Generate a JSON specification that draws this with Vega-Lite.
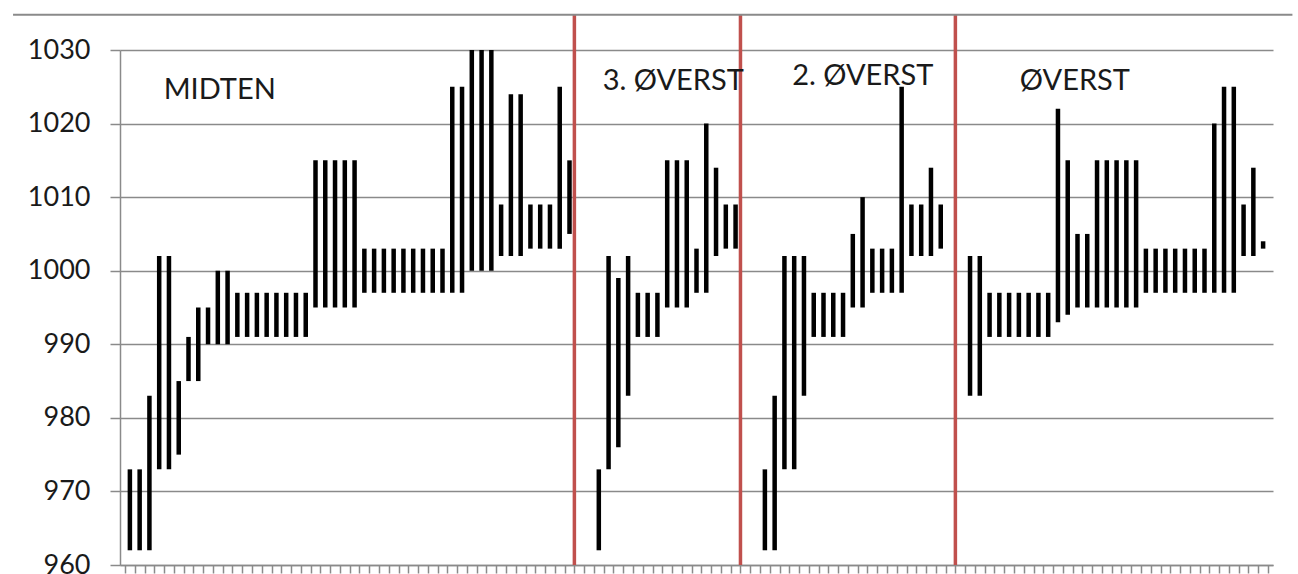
{
  "$schema": "https://vega.github.io/schema/vega-lite/v6.json",
  "width": 1153,
  "height": 515,
  "autosize": {"type": "none"},
  "padding": {"left": 120, "top": 50, "right": 25, "bottom": 9},
  "background": "white",
  "config": {
    "view": {"stroke": null},
    "font": "Lato",
    "axis": {"labelFont": "Lato", "domainColor": "#8a8a8a", "tickColor": "#8a8a8a", "domainWidth": 1.5, "tickWidth": 1.5}
  },
  "datasets": {
    "bars": [
      {"cat": 1, "lo": 962, "hi": 973}, {"cat": 2, "lo": 962, "hi": 973}, {"cat": 3, "lo": 962, "hi": 983},
      {"cat": 4, "lo": 973, "hi": 1002}, {"cat": 5, "lo": 973, "hi": 1002}, {"cat": 6, "lo": 975, "hi": 985},
      {"cat": 7, "lo": 985, "hi": 991}, {"cat": 8, "lo": 985, "hi": 995}, {"cat": 9, "lo": 990, "hi": 995},
      {"cat": 10, "lo": 990, "hi": 1000}, {"cat": 11, "lo": 990, "hi": 1000},
      {"cat": 12, "lo": 991, "hi": 997}, {"cat": 13, "lo": 991, "hi": 997}, {"cat": 14, "lo": 991, "hi": 997}, {"cat": 15, "lo": 991, "hi": 997},
      {"cat": 16, "lo": 991, "hi": 997}, {"cat": 17, "lo": 991, "hi": 997}, {"cat": 18, "lo": 991, "hi": 997}, {"cat": 19, "lo": 991, "hi": 997},
      {"cat": 20, "lo": 995, "hi": 1015}, {"cat": 21, "lo": 995, "hi": 1015}, {"cat": 22, "lo": 995, "hi": 1015}, {"cat": 23, "lo": 995, "hi": 1015}, {"cat": 24, "lo": 995, "hi": 1015},
      {"cat": 25, "lo": 997, "hi": 1003}, {"cat": 26, "lo": 997, "hi": 1003}, {"cat": 27, "lo": 997, "hi": 1003}, {"cat": 28, "lo": 997, "hi": 1003}, {"cat": 29, "lo": 997, "hi": 1003},
      {"cat": 30, "lo": 997, "hi": 1003}, {"cat": 31, "lo": 997, "hi": 1003}, {"cat": 32, "lo": 997, "hi": 1003}, {"cat": 33, "lo": 997, "hi": 1003},
      {"cat": 34, "lo": 997, "hi": 1025}, {"cat": 35, "lo": 997, "hi": 1025},
      {"cat": 36, "lo": 1000, "hi": 1030}, {"cat": 37, "lo": 1000, "hi": 1030}, {"cat": 38, "lo": 1000, "hi": 1030},
      {"cat": 39, "lo": 1002, "hi": 1009}, {"cat": 40, "lo": 1002, "hi": 1024}, {"cat": 41, "lo": 1002, "hi": 1024},
      {"cat": 42, "lo": 1003, "hi": 1009}, {"cat": 43, "lo": 1003, "hi": 1009}, {"cat": 44, "lo": 1003, "hi": 1009},
      {"cat": 45, "lo": 1003, "hi": 1025}, {"cat": 46, "lo": 1005, "hi": 1015},
      {"cat": 49, "lo": 962, "hi": 973}, {"cat": 50, "lo": 973, "hi": 1002}, {"cat": 51, "lo": 976, "hi": 999}, {"cat": 52, "lo": 983, "hi": 1002},
      {"cat": 53, "lo": 991, "hi": 997}, {"cat": 54, "lo": 991, "hi": 997}, {"cat": 55, "lo": 991, "hi": 997},
      {"cat": 56, "lo": 995, "hi": 1015}, {"cat": 57, "lo": 995, "hi": 1015}, {"cat": 58, "lo": 995, "hi": 1015},
      {"cat": 59, "lo": 997, "hi": 1003}, {"cat": 60, "lo": 997, "hi": 1020}, {"cat": 61, "lo": 1002, "hi": 1014},
      {"cat": 62, "lo": 1003, "hi": 1009}, {"cat": 63, "lo": 1003, "hi": 1009},
      {"cat": 66, "lo": 962, "hi": 973}, {"cat": 67, "lo": 962, "hi": 983}, {"cat": 68, "lo": 973, "hi": 1002}, {"cat": 69, "lo": 973, "hi": 1002},
      {"cat": 70, "lo": 983, "hi": 1002},
      {"cat": 71, "lo": 991, "hi": 997}, {"cat": 72, "lo": 991, "hi": 997}, {"cat": 73, "lo": 991, "hi": 997}, {"cat": 74, "lo": 991, "hi": 997},
      {"cat": 75, "lo": 995, "hi": 1005}, {"cat": 76, "lo": 995, "hi": 1010},
      {"cat": 77, "lo": 997, "hi": 1003}, {"cat": 78, "lo": 997, "hi": 1003}, {"cat": 79, "lo": 997, "hi": 1003},
      {"cat": 80, "lo": 997, "hi": 1025}, {"cat": 81, "lo": 1002, "hi": 1009}, {"cat": 82, "lo": 1002, "hi": 1009},
      {"cat": 83, "lo": 1002, "hi": 1014}, {"cat": 84, "lo": 1003, "hi": 1009},
      {"cat": 87, "lo": 983, "hi": 1002}, {"cat": 88, "lo": 983, "hi": 1002},
      {"cat": 89, "lo": 991, "hi": 997}, {"cat": 90, "lo": 991, "hi": 997}, {"cat": 91, "lo": 991, "hi": 997}, {"cat": 92, "lo": 991, "hi": 997},
      {"cat": 93, "lo": 991, "hi": 997}, {"cat": 94, "lo": 991, "hi": 997}, {"cat": 95, "lo": 991, "hi": 997},
      {"cat": 96, "lo": 993, "hi": 1022}, {"cat": 97, "lo": 994, "hi": 1015},
      {"cat": 98, "lo": 995, "hi": 1005}, {"cat": 99, "lo": 995, "hi": 1005},
      {"cat": 100, "lo": 995, "hi": 1015}, {"cat": 101, "lo": 995, "hi": 1015}, {"cat": 102, "lo": 995, "hi": 1015}, {"cat": 103, "lo": 995, "hi": 1015}, {"cat": 104, "lo": 995, "hi": 1015},
      {"cat": 105, "lo": 997, "hi": 1003}, {"cat": 106, "lo": 997, "hi": 1003}, {"cat": 107, "lo": 997, "hi": 1003}, {"cat": 108, "lo": 997, "hi": 1003},
      {"cat": 109, "lo": 997, "hi": 1003}, {"cat": 110, "lo": 997, "hi": 1003}, {"cat": 111, "lo": 997, "hi": 1003},
      {"cat": 112, "lo": 997, "hi": 1020}, {"cat": 113, "lo": 997, "hi": 1025}, {"cat": 114, "lo": 997, "hi": 1025},
      {"cat": 115, "lo": 1002, "hi": 1009}, {"cat": 116, "lo": 1002, "hi": 1014}, {"cat": 117, "lo": 1003, "hi": 1004}
    ],
    "separators": [
      {"pos": 46.5, "lo": 960, "hi": 1034.8},
      {"pos": 63.5, "lo": 960, "hi": 1034.8},
      {"pos": 85.5, "lo": 960, "hi": 1034.8}
    ],
    "border": [
      {"from": -10.96, "to": 120.0, "level": 1034.8}
    ],
    "labels": [
      {"pos": 4.46, "level": 1024.5, "text": "MIDTEN"},
      {"pos": 49.4, "level": 1025.8, "text": "3. ØVERST"},
      {"pos": 68.8, "level": 1026.5, "text": "2. ØVERST"},
      {"pos": 92.1, "level": 1025.8, "text": "ØVERST"}
    ]
  },
  "layer": [
    {
      "data": {"name": "bars"},
      "mark": {"type": "bar", "width": 4.5, "color": "black"},
      "encoding": {
        "x": {
          "field": "cat", "type": "quantitative",
          "scale": {"domain": [0.5, 117.5], "nice": false, "zero": false},
          "axis": {
            "title": null, "labels": false, "labelOverlap": false, "grid": false, "tickSize": 8, "tickCount": 500,
            "values": [0.5,1.5,2.5,3.5,4.5,5.5,6.5,7.5,8.5,9.5,10.5,11.5,12.5,13.5,14.5,15.5,16.5,17.5,18.5,19.5,20.5,21.5,22.5,23.5,24.5,25.5,26.5,27.5,28.5,29.5,30.5,31.5,32.5,33.5,34.5,35.5,36.5,37.5,38.5,39.5,40.5,41.5,42.5,43.5,44.5,45.5,46.5,47.5,48.5,49.5,50.5,51.5,52.5,53.5,54.5,55.5,56.5,57.5,58.5,59.5,60.5,61.5,62.5,63.5,64.5,65.5,66.5,67.5,68.5,69.5,70.5,71.5,72.5,73.5,74.5,75.5,76.5,77.5,78.5,79.5,80.5,81.5,82.5,83.5,84.5,85.5,86.5,87.5,88.5,89.5,90.5,91.5,92.5,93.5,94.5,95.5,96.5,97.5,98.5,99.5,100.5,101.5,102.5,103.5,104.5,105.5,106.5,107.5,108.5,109.5,110.5,111.5,112.5,113.5,114.5,115.5,116.5,117.5]
          }
        },
        "y": {
          "field": "lo", "type": "quantitative",
          "scale": {"domain": [960, 1030], "nice": false, "zero": false},
          "axis": {
            "title": null, "values": [960, 970, 980, 990, 1000, 1010, 1020, 1030], "format": "d",
            "grid": true, "gridColor": "#8a8a8a", "gridWidth": 1.5,
            "tickSize": 10, "labelFontSize": 27, "labelColor": "#1a1a1a", "labelPadding": 20
          }
        },
        "y2": {"field": "hi"}
      }
    },
    {
      "data": {"name": "separators"},
      "mark": {"type": "rule", "color": "#c0504d", "strokeWidth": 3.5},
      "encoding": {
        "x": {"field": "pos", "type": "quantitative"},
        "y": {"field": "lo", "type": "quantitative"},
        "y2": {"field": "hi"}
      }
    },
    {
      "data": {"name": "border"},
      "mark": {"type": "rule", "color": "#8a8a8a", "strokeWidth": 2},
      "encoding": {
        "x": {"field": "from", "type": "quantitative"},
        "x2": {"field": "to"},
        "y": {"field": "level", "type": "quantitative"}
      }
    },
    {
      "data": {"name": "labels"},
      "mark": {"type": "text", "align": "left", "baseline": "middle", "font": "Lato", "fontSize": 29, "color": "#1a1a1a"},
      "encoding": {
        "x": {"field": "pos", "type": "quantitative"},
        "y": {"field": "level", "type": "quantitative"},
        "text": {"field": "text"}
      }
    }
  ]
}
